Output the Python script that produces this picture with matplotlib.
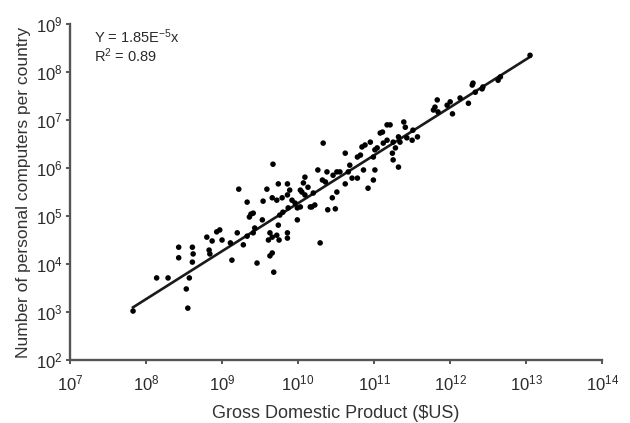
import numpy as np
import matplotlib
matplotlib.use("Agg")
import matplotlib.pyplot as plt
from matplotlib.ticker import LogFormatterSciNotation, NullLocator

plt.rcParams['font.family'] = ['Liberation Sans', 'DejaVu Sans']
plt.rcParams['mathtext.fontset'] = 'custom'
plt.rcParams['mathtext.rm'] = 'Liberation Sans'
plt.rcParams['mathtext.it'] = 'Liberation Sans:italic'

# values, as log10 exponents
log_gdp = [7.83, 8.14, 8.29, 8.43, 8.43, 8.61, 8.62, 8.61, 8.57, 8.53, 8.55,
           8.80, 8.87, 8.83, 8.84, 8.93, 8.97, 9.00, 9.11, 9.13, 9.20, 9.28,
           9.33, 9.41, 9.46, 9.22, 9.33, 9.38, 9.36, 9.41, 9.54, 9.59, 9.67,
           9.74, 9.86, 9.66, 9.72, 9.79, 9.86, 9.92, 9.96, 9.99, 9.87, 9.80,
           9.76, 9.99, 9.63, 9.66, 9.61, 9.72, 9.75, 9.86, 9.86, 9.66, 9.63,
           9.68, 9.74, 10.03, 10.18, 10.29, 10.33, 10.09, 10.07, 10.13, 10.26,
           10.38, 10.36, 10.32, 10.46, 10.51, 10.55, 10.20, 10.09, 10.05, 10.16,
           10.22, 10.51, 10.45, 10.39, 10.49, 10.62, 10.78, 10.82, 10.68, 10.66,
           10.71, 10.78, 10.86, 10.92, 11.01, 10.99, 10.84, 10.88, 10.95, 11.01,
           11.04, 11.08, 11.17, 10.99, 11.11, 11.12, 11.21, 11.39, 11.41, 11.51,
           11.57, 11.50, 11.43, 11.32, 11.34, 11.25, 11.17, 11.28, 11.24, 11.25,
           11.32, 11.83, 11.80, 11.78, 11.84, 12.00, 11.96, 12.03, 12.24, 12.29,
           12.33, 12.30, 12.43, 12.42, 12.66, 12.63, 13.05, 10.03, 9.89, 9.53,
           9.43, 10.62, 12.13]
log_pcs = [3.02, 3.71, 3.71, 4.35, 4.13, 4.35, 4.21, 4.04, 3.71, 3.48, 3.08,
           4.56, 4.48, 4.29, 4.21, 4.67, 4.71, 4.50, 4.44, 4.08, 4.65, 4.40,
           4.58, 4.65, 4.02, 5.56, 5.29, 5.04, 4.98, 5.06, 5.31, 5.56, 6.08,
           5.67, 5.67, 5.38, 5.33, 5.38, 5.44, 5.33, 5.27, 5.17, 5.17, 5.08,
           5.02, 4.92, 4.65, 4.56, 4.50, 4.60, 4.50, 4.65, 4.54, 4.23, 4.17,
           3.83, 4.81, 5.19, 5.19, 4.44, 6.52, 5.81, 5.69, 5.60, 5.96,
           5.92, 5.71, 5.75, 5.85, 5.92, 5.92, 5.48, 5.44, 5.50, 5.19,
           5.23, 5.50, 5.38, 5.13, 5.15, 6.31, 6.23, 6.27, 6.06, 5.92,
           5.79, 5.79, 5.96, 5.58, 5.96, 5.75, 6.44, 6.48, 6.54, 6.38,
           6.42, 6.73, 6.90, 6.23, 6.75, 6.52, 6.90, 6.96, 6.85, 6.79,
           6.65, 6.58, 6.63, 6.65, 6.54, 6.54, 6.58, 6.42, 6.31, 6.17,
           6.02, 7.42, 7.27, 7.21, 7.17, 7.38, 7.31, 7.13, 7.35, 7.73,
           7.58, 7.77, 7.69, 7.65, 7.90, 7.83, 8.35, 5.54, 5.54, 4.92,
           4.75, 5.67, 7.46]

x_ticks = [1e7, 1e8, 1e9, 1e10, 1e11, 1e12, 1e13, 1e14]
y_ticks = [1e2, 1e3, 1e4, 1e5, 1e6, 1e7, 1e8, 1e9]

fit_coef = 1.85e-5

gdp = np.power(10.0, log_gdp)
pcs = np.power(10.0, log_pcs)

fig = plt.figure(figsize=(6.3, 4.23), dpi=100)
ax = fig.add_axes([0.111, 0.149, 0.845, 0.794])

ax.scatter(gdp, pcs, s=16, color='black', edgecolors='none', zorder=3)
line_x = np.array([gdp.min(), gdp.max()])
ax.plot(line_x, fit_coef * line_x, color='#1a1a1a', lw=1.9, zorder=2)

ax.set_xscale('log')
ax.set_yscale('log')
ax.set_xlim(x_ticks[0], x_ticks[-1])
ax.set_ylim(y_ticks[0], y_ticks[-1])
ax.set_xticks(x_ticks)
ax.set_yticks(y_ticks)
ax.xaxis.set_major_formatter(LogFormatterSciNotation())
ax.yaxis.set_major_formatter(LogFormatterSciNotation())
ax.xaxis.set_minor_locator(NullLocator())
ax.yaxis.set_minor_locator(NullLocator())

for side in ['top', 'right']:
    ax.spines[side].set_visible(False)
for side in ['left', 'bottom']:
    ax.spines[side].set_color('#555555')
    ax.spines[side].set_linewidth(1.7)
ax.tick_params(axis='both', colors='#555555', width=1.4, length=3,
               labelsize=12, labelcolor='#2a2a2a')
ax.tick_params(axis='x', pad=7)
ax.tick_params(axis='y', pad=2)

ax.set_xlabel(r'Gross Domestic Product (\$US)', fontsize=13, color='#333333', labelpad=8)
ax.set_ylabel('Number of personal computers per country', fontsize=12.5,
              color='#333333', labelpad=4)

ax.text(0.045, 0.99, r'Y = 1.85E$^{-5}$x', transform=ax.transAxes,
        fontsize=10.5, color='#2a2a2a', va='top')
ax.text(0.045, 0.935, r'R$^{2}$ = 0.89', transform=ax.transAxes,
        fontsize=10.5, color='#2a2a2a', va='top')

fig.savefig('out.png', dpi=100)
